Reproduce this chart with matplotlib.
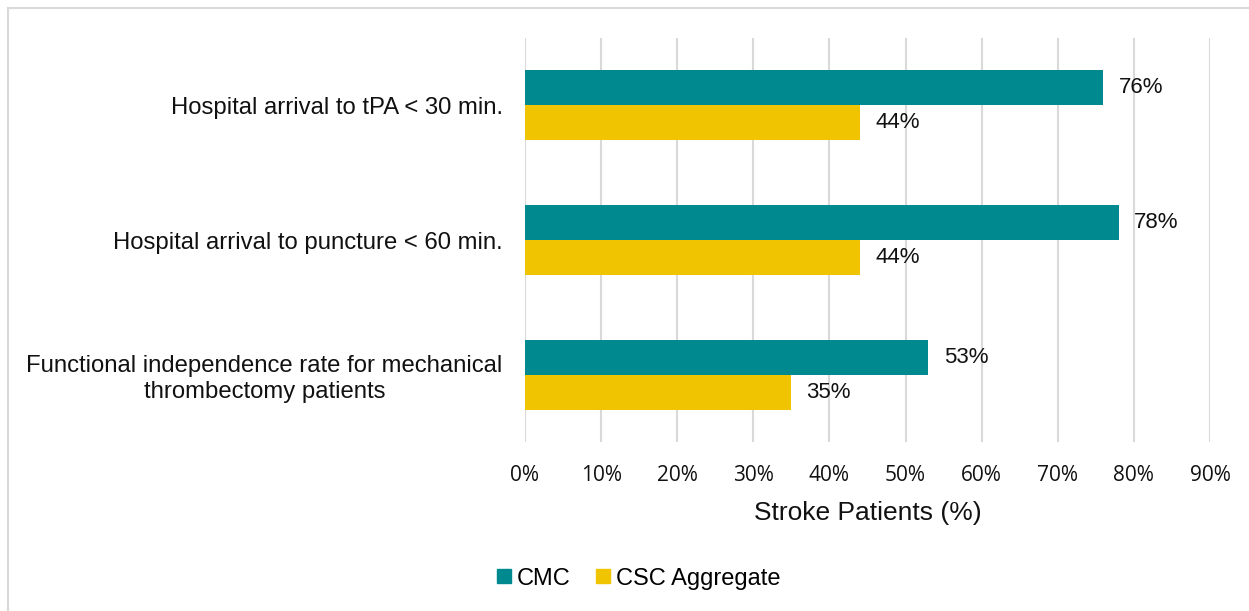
import numpy as np
import matplotlib
matplotlib.use("Agg")
import matplotlib.pyplot as plt
from matplotlib.lines import Line2D

# data
categories = [
    "Hospital arrival to tPA < 30 min.",
    "Hospital arrival to puncture < 60 min.",
    "Functional independence rate for mechanical\nthrombectomy patients",
]
cmc = [76, 78, 53]
csc = [44, 44, 35]
series_names = ["CMC", "CSC Aggregate"]
xticks = list(range(0, 100, 10))

teal = "#008A8F"
yellow = "#F0C400"
grid_col = "#D9D9D9"
txt = "#111111"

plt.rcParams["font.family"] = ["Liberation Sans", "DejaVu Sans"]

fig = plt.figure(figsize=(12.49, 6.11), dpi=100)
ax = fig.add_axes([0.4203, 0.2766, 0.5485, 0.6612])

y = np.arange(len(categories))
h = 0.26
ax.barh(y - h / 2, cmc, height=h, color=teal, label=series_names[0], zorder=3)
ax.barh(y + h / 2, csc, height=h, color=yellow, label=series_names[1], zorder=3)

for yi, v in zip(y, cmc):
    ax.text(v + 2.0, yi - h / 2, f"{v}%", va="center", ha="left", fontsize=16, color=txt)
for yi, v in zip(y, csc):
    ax.text(v + 2.0, yi + h / 2, f"{v}%", va="center", ha="left", fontsize=16, color=txt)

ax.set_ylim(len(categories) - 0.5, -0.5)
ax.set_xlim(0, 90)
ax.set_yticks(y)
ax.set_yticklabels(categories, fontsize=17.2, multialignment="center", color=txt,
                   linespacing=1.25)
ax.set_xticks(xticks)
ax.set_xticklabels([f"{t}%" for t in xticks], fontsize=15, family=["Open Sans", "DejaVu Sans"],
                   color=txt)
ax.tick_params(axis="both", length=0)
ax.tick_params(axis="x", pad=16.5)
ax.tick_params(axis="y", pad=16)
ax.set_xlabel("Stroke Patients (%)", fontsize=19, labelpad=11, color=txt)

ax.grid(axis="x", color=grid_col, linewidth=1.5, zorder=0)
ax.set_axisbelow(True)
for s in ax.spines.values():
    s.set_visible(False)

# legend
handles = [Line2D([], [], marker="s", linestyle="none", markersize=9.5, color=teal),
           Line2D([], [], marker="s", linestyle="none", markersize=9.5, color=yellow)]
fig.legend(handles, series_names, loc="lower center", bbox_to_anchor=(0.5105, 0.0), ncol=2,
           frameon=False, fontsize=17, handlelength=0.8, handletextpad=0.15, columnspacing=1.0)

# outer frame (top and left visible)
fig.add_artist(Line2D([0.0066, 1.0], [0.987, 0.987], transform=fig.transFigure, color=grid_col, linewidth=1.5))
fig.add_artist(Line2D([0.0066, 0.0066], [0.0, 0.987], transform=fig.transFigure, color=grid_col, linewidth=1.5))

fig.savefig("out.png", dpi=100)
